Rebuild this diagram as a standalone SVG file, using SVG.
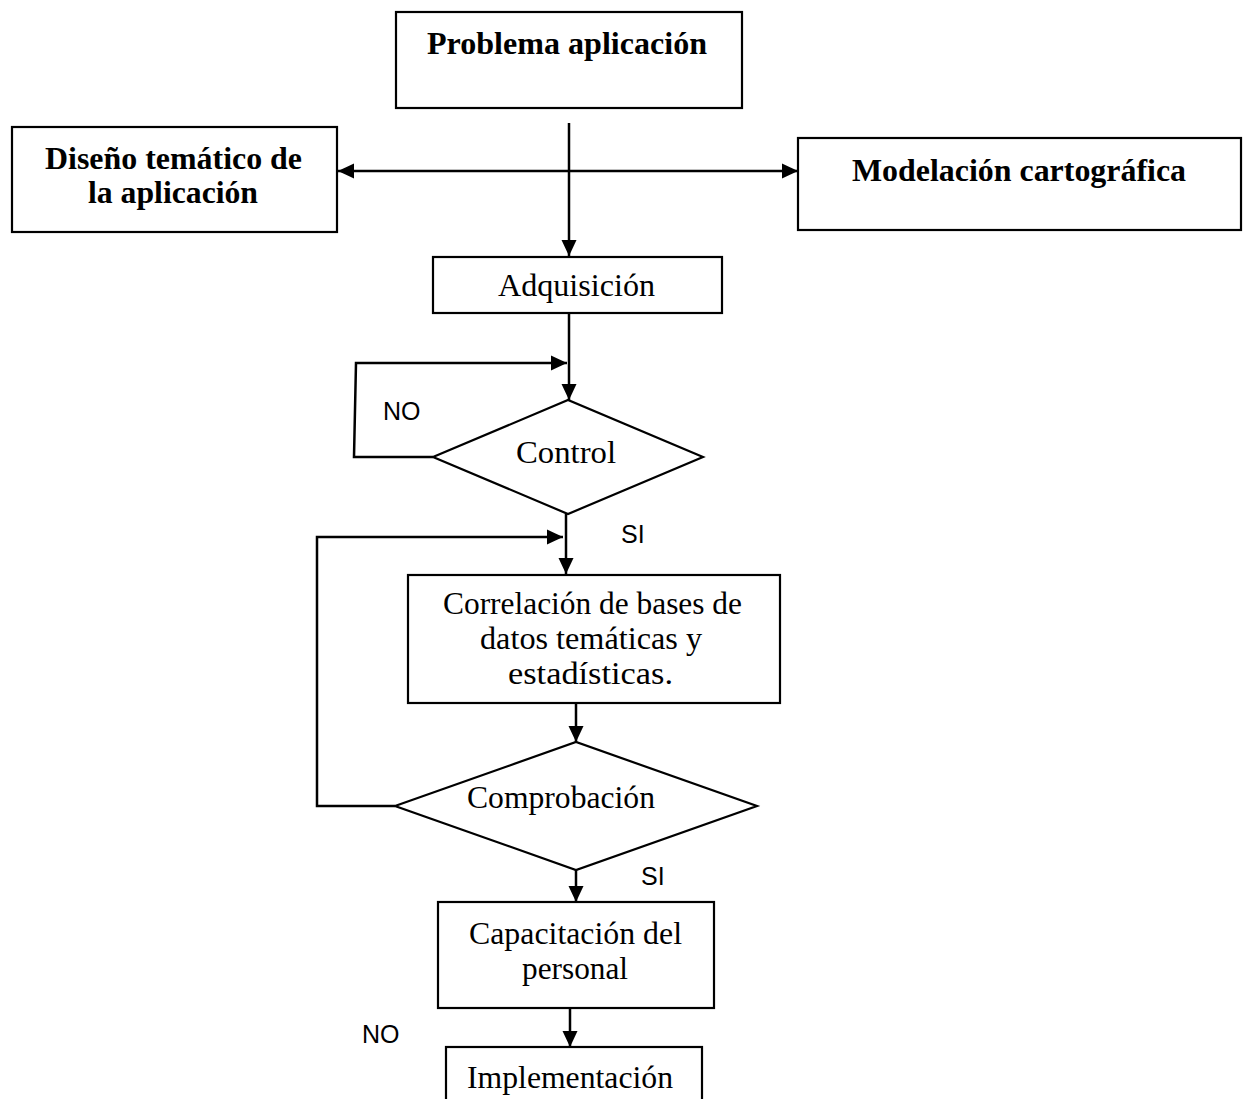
<svg xmlns="http://www.w3.org/2000/svg" width="1243" height="1099" viewBox="0 0 1243 1099">
<style>
.box{fill:#fff;stroke:#000;stroke-width:2.2}
.t{font-family:"Liberation Serif","Times New Roman",serif;font-size:32px;fill:#000;text-anchor:middle}
.b{font-weight:bold}
.lbl{font-family:"Liberation Sans",Arial,sans-serif;font-size:25px;fill:#000}
.c{fill:none;stroke:#000;stroke-width:2.5}
</style>
<defs>
<marker id="ah" markerUnits="userSpaceOnUse" markerWidth="17" markerHeight="16" refX="16" refY="8" orient="auto-start-reverse">
<path d="M0,0.5 L16,8 L0,15.5 Z" fill="#000"/>
</marker>
</defs>
<rect width="1243" height="1099" fill="#fff"/>
<g id="connectors">
<path class="c" d="M569,123 V256" marker-end="url(#ah)"/>
<path class="c" d="M338,171 H798" marker-start="url(#ah)" marker-end="url(#ah)"/>
<path class="c" d="M569,314 V400" marker-end="url(#ah)"/>
<path class="c" d="M433,457 H354 L356,363 H567" marker-end="url(#ah)"/>
<path class="c" d="M566,514 V574" marker-end="url(#ah)"/>
<path class="c" d="M395,806 H317 V537 H563" marker-end="url(#ah)"/>
<path class="c" d="M576,703 V742" marker-end="url(#ah)"/>
<path class="c" d="M576,870 V902" marker-end="url(#ah)"/>
<path class="c" d="M570,1008 V1047" marker-end="url(#ah)"/>
<text class="lbl" x="383" y="420">NO</text>
<text class="lbl" x="621" y="543">SI</text>
<text class="lbl" x="641" y="885">SI</text>
<text class="lbl" x="362" y="1043">NO</text>
</g>
<g id="problema">
<rect class="box" x="396" y="12" width="346" height="96"/>
<text class="t b" x="567" y="54" textLength="280" lengthAdjust="spacingAndGlyphs">Problema aplicación</text>
</g>
<g id="diseno">
<rect class="box" x="12" y="127" width="325" height="105"/>
<text class="t b" x="173.5" y="169" textLength="257" lengthAdjust="spacingAndGlyphs">Diseño temático de</text>
<text class="t b" x="173" y="203" textLength="170" lengthAdjust="spacingAndGlyphs">la aplicación</text>
</g>
<g id="modelacion">
<rect class="box" x="798" y="138" width="443" height="92"/>
<text class="t b" x="1019" y="181" textLength="334" lengthAdjust="spacingAndGlyphs">Modelación cartográfica</text>
</g>
<g id="adquisicion">
<rect class="box" x="433" y="257" width="289" height="56"/>
<text class="t" x="576.5" y="296" textLength="157" lengthAdjust="spacingAndGlyphs">Adquisición</text>
</g>
<g id="control">
<polygon class="box" points="433,457 568,400 703,457 568,514"/>
<text class="t" x="566" y="463" textLength="100" lengthAdjust="spacingAndGlyphs">Control</text>
</g>
<g id="correlacion">
<rect class="box" x="408" y="575" width="372" height="128"/>
<text class="t" x="592.5" y="614" textLength="299" lengthAdjust="spacingAndGlyphs">Correlación de bases de</text>
<text class="t" x="591" y="649" textLength="222" lengthAdjust="spacingAndGlyphs">datos temáticas y</text>
<text class="t" x="590.5" y="684" textLength="165" lengthAdjust="spacingAndGlyphs">estadísticas.</text>
</g>
<g id="comprobacion">
<polygon class="box" points="395,806 576,742 757,806 576,870"/>
<text class="t" x="561" y="808" textLength="188" lengthAdjust="spacingAndGlyphs">Comprobación</text>
</g>
<g id="capacitacion">
<rect class="box" x="438" y="902" width="276" height="106"/>
<text class="t" x="575.5" y="944" textLength="213" lengthAdjust="spacingAndGlyphs">Capacitación del</text>
<text class="t" x="575" y="979" textLength="106" lengthAdjust="spacingAndGlyphs">personal</text>
</g>
<g id="implementacion">
<rect class="box" x="446" y="1047" width="256" height="70"/>
<text class="t" x="570" y="1088" textLength="206" lengthAdjust="spacingAndGlyphs">Implementación</text>
</g>
</svg>
